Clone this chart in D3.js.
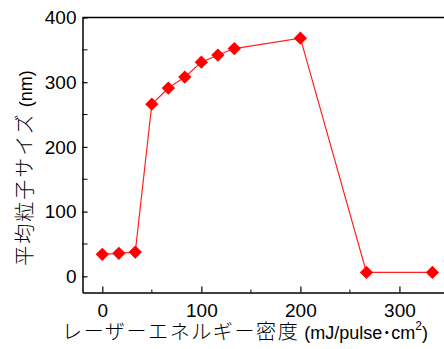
<!DOCTYPE html>
<html>
<head>
<meta charset="utf-8">
<script src="https://cdn.jsdelivr.net/npm/d3@7"></script>
<style>
  body { margin: 0; background: #ffffff; }
  text { font-family: "Liberation Sans", "Noto Sans CJK JP", sans-serif; fill: #000; }
</style>
</head>
<body>
<div id="chart"></div>
<script>
// Data
var energy = [0, 16.7, 33.3, 50, 66.7, 83.3, 100, 116.7, 133.3, 200, 266.7, 333.3];
var particleSize = [34, 35.5, 37.5, 266, 291, 308, 331, 342, 352, 368, 6, 6];
var xTicks = [0, 100, 200, 300];
var xMinorTicks = [50, 150, 250];
var yTicks = [0, 100, 200, 300, 400];
var yMinorTicks = [50, 150, 250, 350];

var svgWidth = 444;
var svgHeight = 349;

var margin = { top: 17.5, right: 0, bottom: 56.5, left: 82.5 };
var chartWidth = svgWidth - margin.left - margin.right;
var chartHeight = svgHeight - margin.top - margin.bottom;

var svg = d3.select("#chart")
  .append("svg")
  .attr("width", svgWidth)
  .attr("height", svgHeight);

var chartGroup = svg.append("g")
  .attr("transform", `translate(${margin.left}, ${margin.top})`);

// scales - the frame runs past the right edge of the picture
var xScale = d3.scaleLinear()
  .domain([-20, 345])
  .range([0, chartWidth]);

var yScale = d3.scaleLinear()
  .domain([-25, 400])
  .range([chartHeight, 0]);

// axes, ticks pointing inward
var bottomAxis = d3.axisBottom(xScale)
  .tickValues(xTicks)
  .tickSize(-6)
  .tickPadding(11)
  .tickSizeOuter(0);

var leftAxis = d3.axisLeft(yScale)
  .tickValues(yTicks)
  .tickSize(-5)
  .tickPadding(6)
  .tickSizeOuter(0);

var xAxisGroup = chartGroup.append("g")
  .attr("transform", `translate(0, ${chartHeight})`)
  .call(bottomAxis);

var yAxisGroup = chartGroup.append("g")
  .call(leftAxis);

// minor ticks
xAxisGroup.selectAll(".minor")
  .data(xMinorTicks)
  .enter()
  .append("line")
  .attr("x1", d => xScale(d))
  .attr("x2", d => xScale(d))
  .attr("y1", 0)
  .attr("y2", -3)
  .attr("stroke", "#000");

yAxisGroup.selectAll(".minor")
  .data(yMinorTicks)
  .enter()
  .append("line")
  .attr("y1", d => yScale(d))
  .attr("y2", d => yScale(d))
  .attr("x1", 0)
  .attr("x2", 5)
  .attr("stroke", "#000");

chartGroup.selectAll(".domain")
  .attr("stroke", "#000")
  .attr("stroke-width", 1.5);

chartGroup.selectAll(".tick line")
  .attr("stroke", "#000")
  .attr("stroke-width", 1.2);

chartGroup.selectAll(".tick text")
  .attr("font-size", "19px")
  .attr("font-family", "'Liberation Sans', sans-serif");

// top frame line
chartGroup.append("line")
  .attr("x1", 0)
  .attr("x2", chartWidth)
  .attr("y1", 0)
  .attr("y2", 0)
  .attr("stroke", "#000")
  .attr("stroke-width", 1.5);

// connecting line
var points = energy.map((d, i) => [d, particleSize[i]]);

var line = d3.line()
  .x(d => xScale(d[0]))
  .y(d => yScale(d[1]));

chartGroup.append("path")
  .datum(points)
  .attr("d", line)
  .attr("fill", "none")
  .attr("stroke", "#ff2020")
  .attr("stroke-width", 1.2);

// diamond markers
var diamond = d3.symbol().type(d3.symbolSquare).size(88);

chartGroup.selectAll(".marker")
  .data(points)
  .enter()
  .append("path")
  .attr("class", "marker")
  .attr("d", diamond)
  .attr("transform", d => `translate(${xScale(d[0])}, ${yScale(d[1])}) rotate(45)`)
  .attr("fill", "#ff0000");

// axis labels - Japanese part in the CJK font, latin part narrower
var yLabel = svg.append("text")
  .attr("transform", "translate(32, 168) rotate(-90)")
  .attr("text-anchor", "middle")
  .attr("font-size", "18px");

yLabel.append("tspan")
  .attr("font-family", "'Noto Sans CJK JP', sans-serif")
  .attr("font-size", "20px")
  .attr("font-weight", 300)
  .attr("letter-spacing", "2px")
  .text("平均粒子サイズ");
yLabel.append("tspan").text(" (nm)");

var xLabel = svg.append("text")
  .attr("x", 245)
  .attr("y", 339)
  .attr("text-anchor", "middle")
  .attr("font-size", "18px");

xLabel.append("tspan")
  .attr("font-family", "'Noto Sans CJK JP', sans-serif")
  .attr("font-size", "20px")
  .attr("font-weight", 300)
  .attr("letter-spacing", "1.6px")
  .text("レーザーエネルギー密度");
xLabel.append("tspan").text(" (mJ/pulse");
xLabel.append("tspan")
  .attr("font-family", "'Noto Sans CJK JP', sans-serif")
  .text("･");
xLabel.append("tspan").text("cm");
xLabel.append("tspan")
  .attr("font-size", "12px")
  .attr("dy", "-9")
  .text("2");
xLabel.append("tspan")
  .attr("dy", "9")
  .text(")");
</script>
</body>
</html>
